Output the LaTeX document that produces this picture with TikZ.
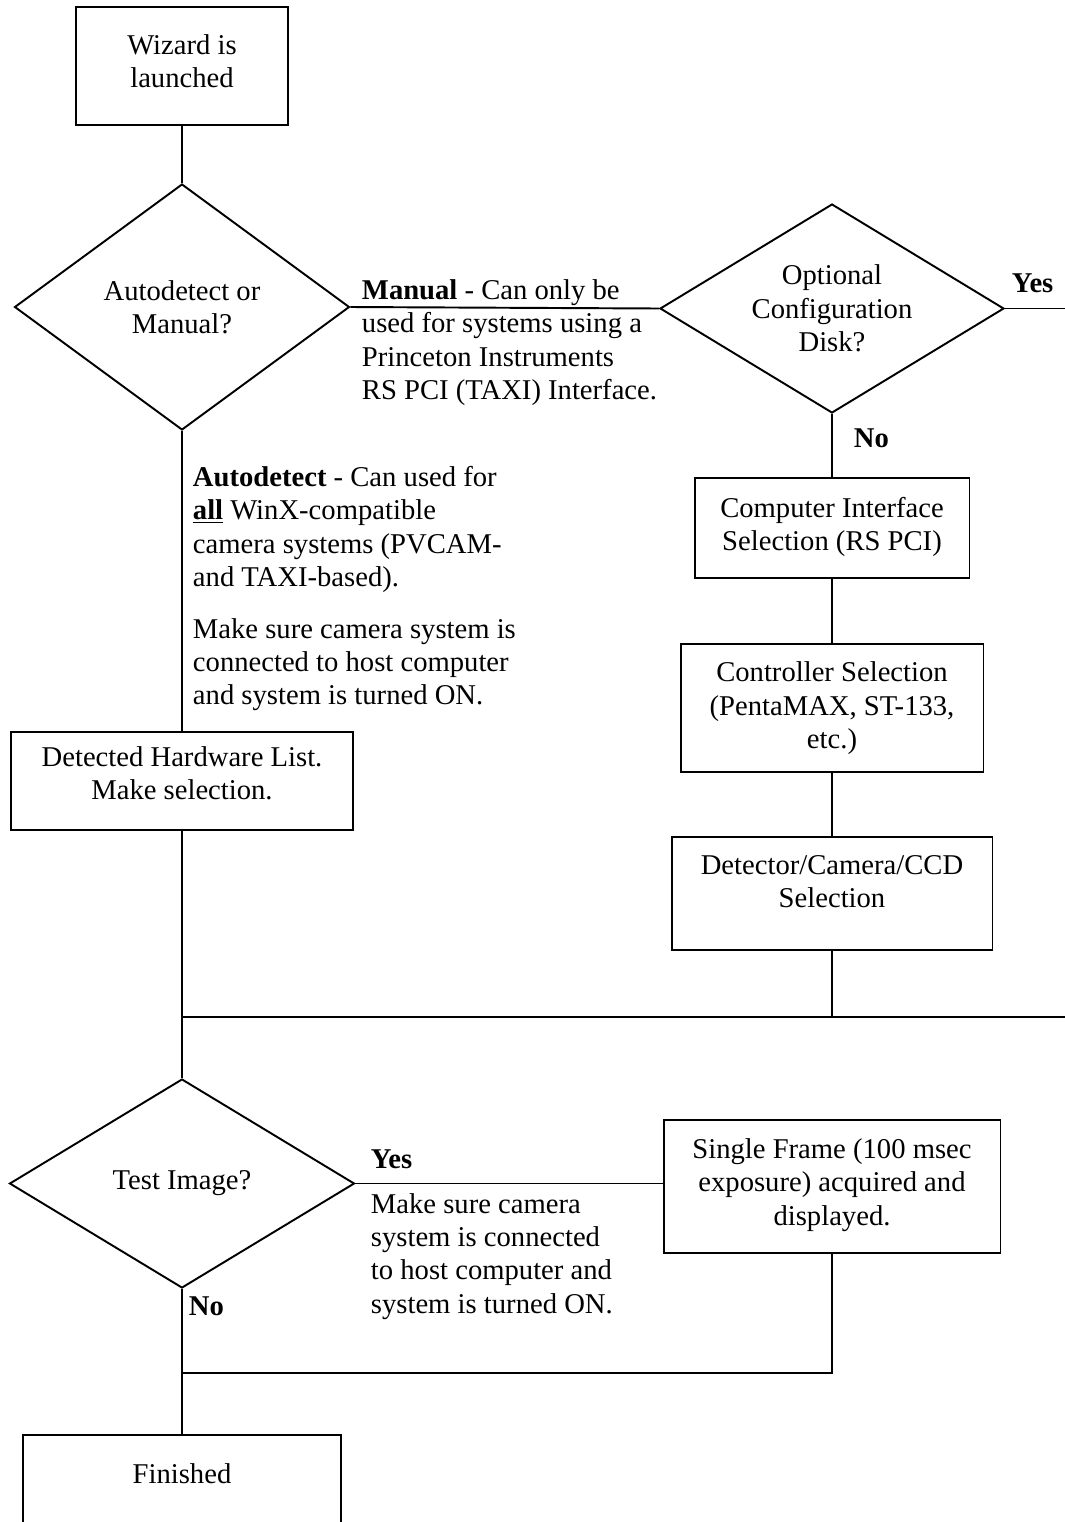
\documentclass[tikz,border=0pt]{standalone}
\usepackage{fontspec}
\setmainfont{Liberation Serif}
\usetikzlibrary{shapes.geometric}

\begin{document}
\begin{tikzpicture}[x=0.02cm,y=-0.02cm,line width=1.1pt,
  font=\fontsize{16.3}{19}\selectfont]

  \clip (0,0) rectangle (1065,1522);

  % node styles
  \tikzstyle{Box}=[
  shape=rectangle,draw,
  align=center,
  inner sep=0pt,
  text depth=0.19cm]

  \tikzstyle{Decision}=[shape=diamond,draw,align=center,inner sep=0pt]

  \tikzstyle{Note}=[anchor=north west,align=left,inner sep=0pt]
  \tikzstyle{Answer}=[anchor=base west,inner sep=0pt,font=\fontsize{16.3}{19}\selectfont\bfseries]

  % left column
  \node[Box,minimum width=4.24cm,minimum height=2.36cm] (W) at (182,66) {Wizard is\\launched};
  \node[Decision,minimum width=6.7cm,minimum height=4.92cm,aspect=1.36] (D1) at (182,307) {Autodetect or\\Manual?};
  \node[Box,minimum width=6.84cm,minimum height=1.96cm,text depth=0.33cm] (HW) at (182,781) {Detected Hardware List.\\Make selection.};
  \node[Decision,minimum width=6.9cm,minimum height=4.18cm,aspect=1.65] (D3) at (182,1183.5) {Test Image?};
  \node[Box,anchor=north,minimum width=6.36cm,inner ysep=0.57cm,text depth=2cm] (F) at (182,1434) {Finished};

  % right column
  \node[Decision,minimum width=6.88cm,minimum height=4.18cm,aspect=1.65] (D2) at (832,308.5) {Optional\\Configuration\\Disk?};
  \node[Box,minimum width=5.5cm,minimum height=2cm,text depth=0.17cm] (CI) at (832,528) {Computer Interface\\Selection (RS PCI)};
  \node[Box,minimum width=6.06cm,minimum height=2.56cm,text depth=0.11cm] (CS) at (832,708) {Controller Selection\\(PentaMAX, ST-133,\\etc.)};
  \node[Box,minimum width=6.42cm,minimum height=2.26cm,text depth=0.47cm] (DS) at (832,893.5) {Detector/Camera/CCD\\Selection};
  \node[Box,minimum width=6.74cm,minimum height=2.66cm] (SF) at (832,1186.5) {Single Frame (100 msec\\exposure) acquired and\\displayed.};

  % junctions
  \coordinate (J1) at (182,1017);
  \coordinate (J2) at (182,1373);
  \coordinate (R) at (1100,1017);

  % labels
  \node[Note] (ML) at (361,278.4) {\textbf{Manual} - Can only be\\used for systems using a\\Princeton Instruments\\RS PCI (TAXI) Interface.};
  \node[Note] (AL) at (192,465.4) {\textbf{Autodetect} - Can used for\\\underline{\textbf{all}} WinX-compatible\\camera systems (PVCAM-\\and TAXI-based).\\[0.36cm]Make sure camera system is\\connected to host computer\\and system is turned ON.};
  \node[Note] (YL) at (370,1148.6) {\textbf{Yes}\\[0.23cm]Make sure camera\\system is connected\\to host computer and\\system is turned ON.};
  \node[Answer] (Y2) at (1011,292) {Yes};
  \node[Answer] (N2) at (853,447) {No};
  \node[Answer] (N3) at (188,1315) {No};

  % connectors
  \draw (W.south) -- (D1.north);
  \draw (D1.east) -- (D2.west);
  \draw (D2.east) -| (R) -- (J1);
  \draw (D2.south) -- (CI.north);
  \draw (CI.south) -- (CS.north);
  \draw (CS.south) -- (DS.north);
  \draw (DS.south) -- (DS.south |- J1);
  \draw (D1.south) -- (HW.north);
  \draw (HW.south) -- (D3.north);
  \draw (D3.east) -- (D3.east -| SF.west);
  \draw (SF.south) |- (J2);
  \draw (D3.south) -- (F.north);

\end{tikzpicture}
\end{document}
